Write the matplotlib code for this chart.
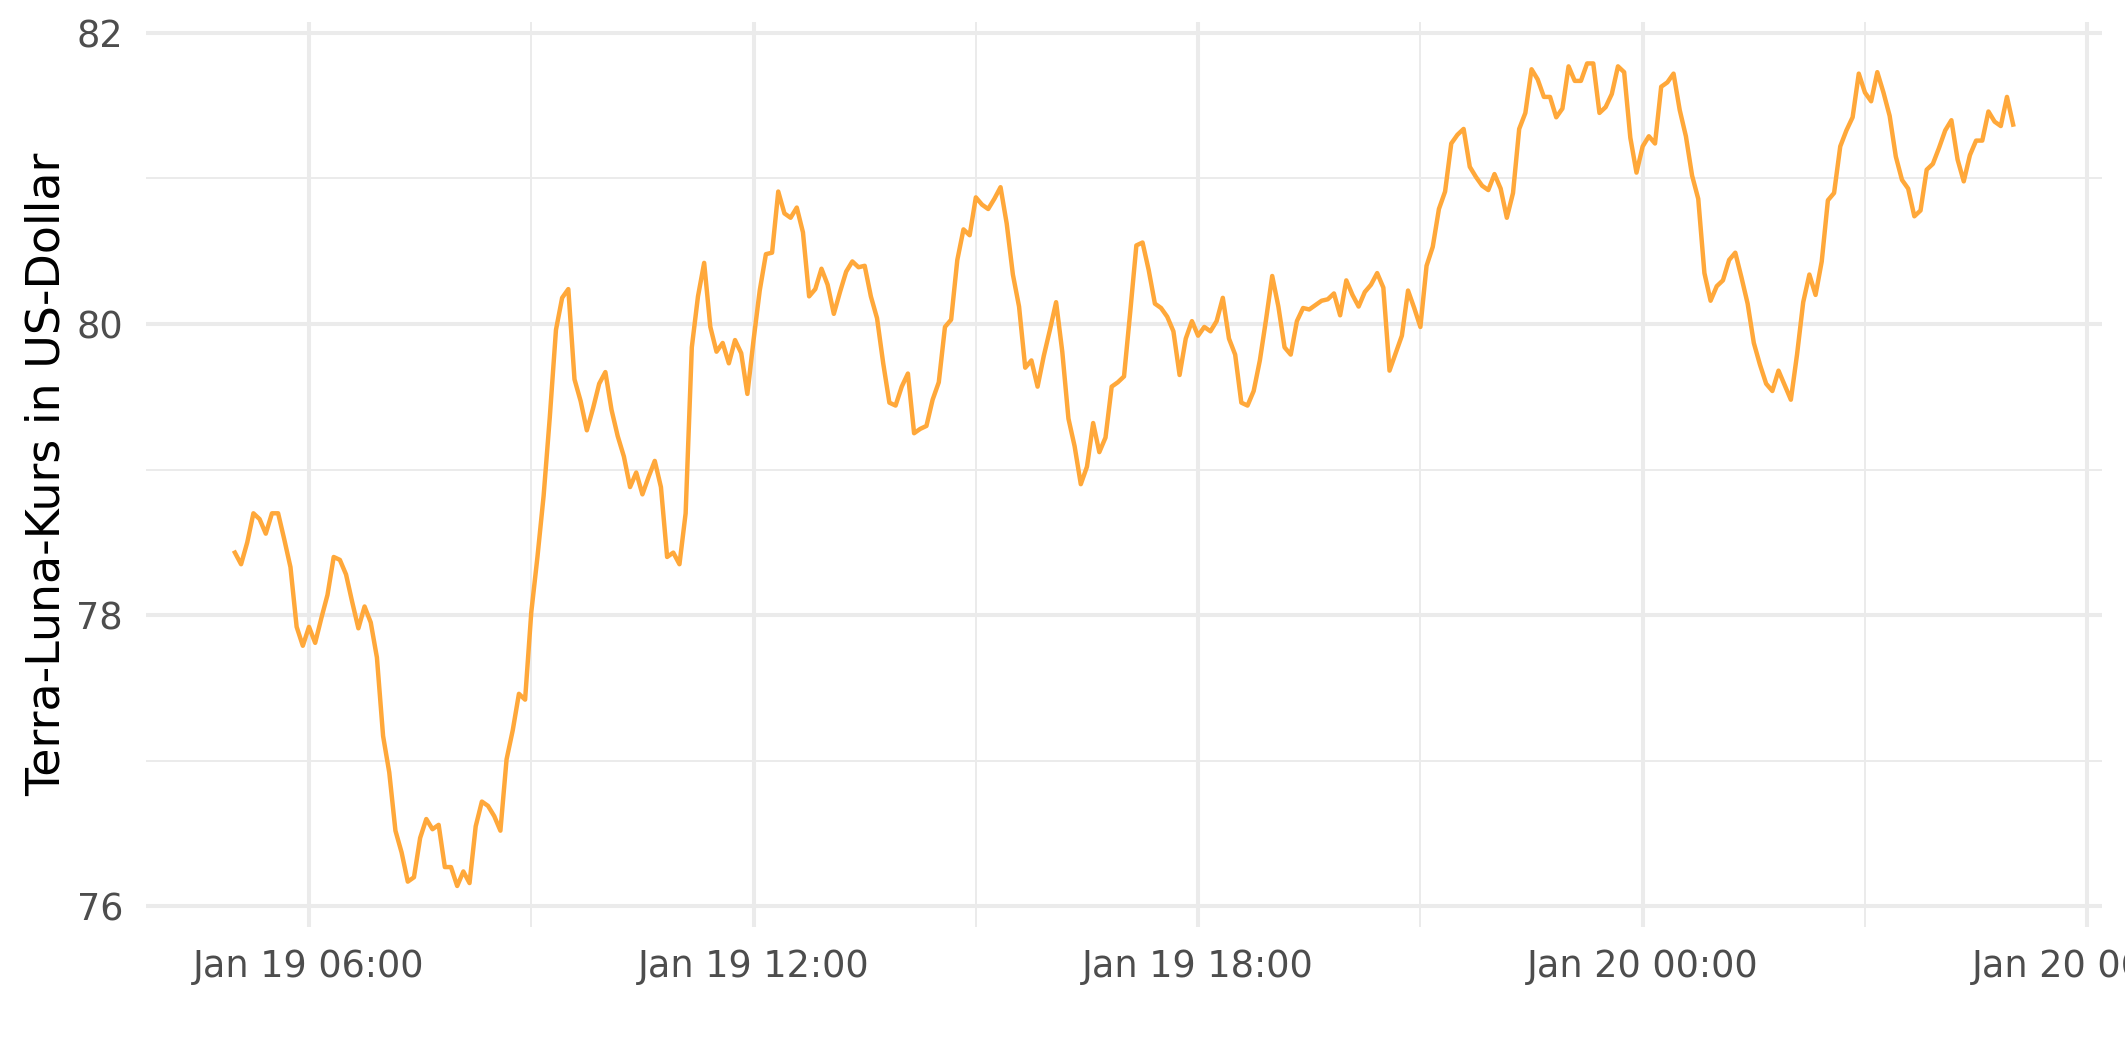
import numpy as np
import pandas as pd
import matplotlib
matplotlib.use("Agg")
import matplotlib.pyplot as plt
import matplotlib.dates as mdates

# Terra-Luna price, 5-minute steps
start = "2022-01-19 05:00"
price = [
    78.43, 78.35, 78.50, 78.70, 78.66, 78.56, 78.70, 78.70, 78.52, 78.33, 77.92, 77.79,
    77.92, 77.81, 77.98, 78.14, 78.40, 78.38, 78.28, 78.09, 77.91, 78.06, 77.95, 77.71,
    77.17, 76.92, 76.52, 76.37, 76.17, 76.20, 76.47, 76.60, 76.53, 76.56, 76.27, 76.27,
    76.14, 76.24, 76.16, 76.55, 76.72, 76.69, 76.62, 76.52, 77.01, 77.21, 77.46, 77.42,
    78.02, 78.40, 78.82, 79.36, 79.96, 80.18, 80.24, 79.62, 79.47, 79.27, 79.42, 79.59,
    79.67, 79.41, 79.23, 79.09, 78.88, 78.98, 78.83, 78.95, 79.06, 78.88, 78.40, 78.43,
    78.35, 78.70, 79.84, 80.19, 80.42, 79.98, 79.81, 79.87, 79.73, 79.89, 79.80, 79.52,
    79.89, 80.23, 80.48, 80.49, 80.91, 80.76, 80.73, 80.80, 80.63, 80.19, 80.24, 80.38,
    80.27, 80.07, 80.22, 80.36, 80.43, 80.39, 80.40, 80.19, 80.04, 79.73, 79.46, 79.44,
    79.57, 79.66, 79.25, 79.28, 79.30, 79.48, 79.60, 79.98, 80.03, 80.44, 80.65, 80.61,
    80.87, 80.82, 80.79, 80.86, 80.94, 80.69, 80.34, 80.12, 79.70, 79.75, 79.57, 79.78,
    79.96, 80.15, 79.81, 79.35, 79.16, 78.90, 79.02, 79.32, 79.12, 79.22, 79.57, 79.60,
    79.64, 80.08, 80.54, 80.56, 80.37, 80.14, 80.11, 80.05, 79.95, 79.65, 79.90, 80.02,
    79.92, 79.98, 79.95, 80.02, 80.18, 79.90, 79.79, 79.46, 79.44, 79.54, 79.75, 80.03,
    80.33, 80.12, 79.84, 79.79, 80.02, 80.11, 80.10, 80.13, 80.16, 80.17, 80.21, 80.06,
    80.30, 80.20, 80.12, 80.22, 80.27, 80.35, 80.25, 79.68, 79.80, 79.92, 80.23, 80.11,
    79.98, 80.40, 80.53, 80.79, 80.91, 81.24, 81.30, 81.34, 81.08, 81.01, 80.95, 80.92,
    81.03, 80.93, 80.73, 80.90, 81.34, 81.45, 81.75, 81.68, 81.56, 81.56, 81.42, 81.48,
    81.77, 81.67, 81.67, 81.79, 81.79, 81.45, 81.49, 81.58, 81.77, 81.73, 81.28, 81.04,
    81.22, 81.29, 81.24, 81.63, 81.66, 81.72, 81.47, 81.29, 81.02, 80.86, 80.35, 80.16,
    80.26, 80.30, 80.44, 80.49, 80.32, 80.14, 79.87, 79.72, 79.59, 79.54, 79.68, 79.58,
    79.48, 79.79, 80.15, 80.34, 80.20, 80.43, 80.85, 80.90, 81.22, 81.33, 81.42, 81.72,
    81.59, 81.53, 81.73, 81.59, 81.43, 81.15, 80.99, 80.93, 80.74, 80.78, 81.06, 81.10,
    81.21, 81.33, 81.40, 81.13, 80.98, 81.16, 81.26, 81.26, 81.46, 81.39, 81.36, 81.56,
    81.37,
]
y_ticks = [76, 78, 80, 82]
y_minor = [77, 79, 81]

times = pd.date_range(start, periods=len(price), freq="5min")

fig = plt.figure(figsize=(10.625, 5.31), dpi=200)
ax = fig.add_axes([0.0687, 0.127, 0.9205, 0.852])

ax.plot(times, price, color="#FFA83A", linewidth=1.6, zorder=3)

ax.margins(x=0.05, y=0.05)
ax.set_yticks(y_ticks)
ax.set_yticks(y_minor, minor=True)
ax.xaxis.set_major_locator(mdates.HourLocator(byhour=[0, 6, 12, 18]))
ax.xaxis.set_minor_locator(mdates.HourLocator(byhour=[3, 9, 15, 21]))
ax.xaxis.set_major_formatter(mdates.DateFormatter("%b %d %H:%M"))

ax.grid(which="major", color="#EBEBEB", linewidth=1.45)
ax.grid(which="minor", color="#EBEBEB", linewidth=0.72)
ax.set_axisbelow(True)
for s in ax.spines.values():
    s.set_visible(False)
ax.tick_params(which="both", length=0)
ax.tick_params(axis="x", pad=7.5, labelsize=13.2, labelcolor="#4D4D4D")
ax.tick_params(axis="y", pad=8.3, labelsize=13.2, labelcolor="#4D4D4D")

ax.set_ylabel("Terra-Luna-Kurs in US-Dollar", fontsize=16.5, color="black")
ax.yaxis.set_label_coords(-0.039, 0.5)

fig.savefig("out.png", dpi=200)
